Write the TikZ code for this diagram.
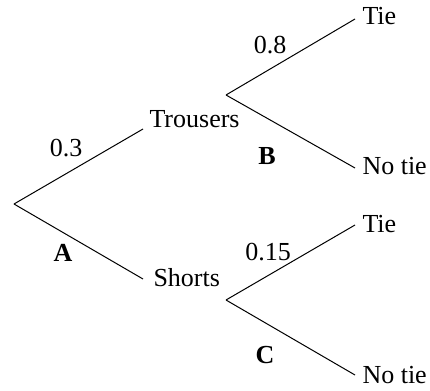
\documentclass[tikz,border=0pt]{standalone}
\usepackage{fontspec}
\setmainfont{Liberation Serif}
\usepackage{tikz}

\begin{document}
\begin{tikzpicture}[x=1pt, y=-1pt, line width=1pt,
		leaf_style/.style={anchor=base west, inner sep=0pt, font=\fontsize{26}{30}\selectfont},
		prob_style/.style={inner sep=0pt, font=\fontsize{26}{30}\selectfont},
		event_style/.style={inner sep=0pt, font=\fontsize{26}{30}\selectfont\bfseries},
		edge_style/.style={draw=black}]
		
		\useasboundingbox (0,0) rectangle (430,390);
		
		% branch points and branch ends
		\coordinate (r0) at (14,204);
		\coordinate (tr) at (143,129);
		\coordinate (sh) at (143,279);
		\coordinate (b0) at (226,95);
		\coordinate (b1) at (355,19);
		\coordinate (b2) at (355,168);
		\coordinate (c0) at (226,300);
		\coordinate (c1) at (355,225);
		\coordinate (c2) at (355,375);
		
		% outcomes
		\node[leaf_style] (n1) at (149,128) {Trousers};
		\node[leaf_style] (n2) at (153,286) {Shorts};
		\node[leaf_style] (n3) at (362,25)  {Tie};
		\node[leaf_style] (n4) at (362,174) {No tie};
		\node[leaf_style] (n5) at (362,232) {Tie};
		\node[leaf_style] (n6) at (362,383) {No tie};
		
		% probabilities and event letters
		\node[prob_style] (p1) at (66,148)  {0.3};
		\node[prob_style] (p2) at (270,45)  {0.8};
		\node[prob_style] (p3) at (268,252) {0.15};
		\node[event_style] (e1) at (63,253)  {A};
		\node[event_style] (e2) at (267,156) {B};
		\node[event_style] (e3) at (265,355) {C};
		
		\draw[edge_style]  (r0) -- (tr);
		\draw[edge_style]  (r0) -- (sh);
		\draw[edge_style]  (b0) -- (b1);
		\draw[edge_style]  (b0) -- (b2);
		\draw[edge_style]  (c0) -- (c1);
		\draw[edge_style]  (c0) -- (c2);
		
\end{tikzpicture}
\end{document}
